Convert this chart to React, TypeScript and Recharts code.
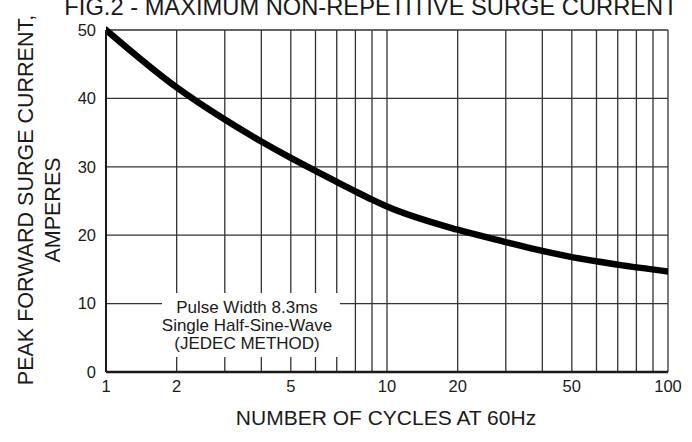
import { LineChart, Line, XAxis, YAxis, CartesianGrid } from 'recharts'

const cycles = [1, 2, 3, 4, 5, 6, 7, 8, 9, 10, 20, 30, 40, 50, 70, 100]
const surgeAmps = [50, 41.6, 36.9, 33.7, 31.3, 29.4, 27.8, 26.4, 25.2, 24.2, 20.8, 19.0, 17.7, 16.8, 15.7, 14.7]

const gridCycles = [1, 2, 3, 4, 5, 6, 7, 8, 9, 10, 20, 30, 40, 50, 60, 70, 80, 90, 100]
const labelCycles = [1, 2, 5, 10, 20, 50, 100]
const ampTicks = [0, 10, 20, 30, 40, 50]

const noteLines = ['Pulse Width 8.3ms', 'Single Half-Sine-Wave', '(JEDEC METHOD)']

const data = cycles.map((c, i) => ({ cycles: c, amps: surgeAmps[i] }))

const font = '"Liberation Sans", Arial, sans-serif'
const ink = '#1a1a1a'

// the printed log paper is slightly squeezed inside each decade
const SQUEEZE = 0.7
function warp(v: number) {
  const d = Math.floor(Math.log10(v) + 1e-9)
  const m = v / Math.pow(10, d)
  return d + Math.log10((m + SQUEEZE) / (1 + SQUEEZE)) / Math.log10((10 + SQUEEZE) / (1 + SQUEEZE))
}

function logPaperScale() {
  let dom: number[] = [1, 100]
  let rng: number[] = [0, 1]
  const scale: any = (v: number) => {
    const t0 = warp(dom[0])
    const t1 = warp(dom[1])
    return rng[0] + ((warp(v) - t0) / (t1 - t0)) * (rng[1] - rng[0])
  }
  scale.domain = (d?: number[]) => {
    if (d === undefined) return dom.slice()
    dom = d.map(Number)
    return scale
  }
  scale.range = (r?: number[]) => {
    if (r === undefined) return rng.slice()
    rng = r.map(Number)
    return scale
  }
  scale.ticks = () => gridCycles
  scale.copy = () => logPaperScale().domain(dom).range(rng)
  return scale
}

export default function App() {
  return (
    <div style={{ position: 'absolute', left: 0, top: 0, width: 692, height: 442, background: '#fff', fontFamily: font }}>
      <LineChart width={692} height={442} data={data} margin={{ top: 30, right: 24, bottom: 40, left: 0 }}>
        <CartesianGrid stroke="#333" strokeWidth={1.3} />
        <XAxis
          dataKey="cycles"
          type="number"
          scale={logPaperScale()}
          domain={[1, 100]}
          ticks={gridCycles}
          interval={0}
          allowDataOverflow
          tickFormatter={(v: number) => (labelCycles.includes(v) ? String(v) : '')}
          tickSize={0}
          tickMargin={8}
          height={30}
          axisLine={{ stroke: ink, strokeWidth: 2.5 }}
          tick={{ fill: ink, fontSize: 16.5, fontFamily: font }}
        />
        <YAxis
          type="number"
          domain={[0, 50]}
          ticks={ampTicks}
          interval={0}
          width={106}
          tickSize={0}
          tickMargin={10}
          axisLine={{ stroke: ink, strokeWidth: 2 }}
          tick={{ fill: ink, fontSize: 16.5, fontFamily: font }}
        />
        <Line
          type="monotone"
          dataKey="amps"
          stroke="#000"
          strokeWidth={6.5}
          strokeLinecap="round"
          dot={false}
          isAnimationActive={false}
        />
      </LineChart>
      <svg width={692} height={442} style={{ position: 'absolute', left: 0, top: 0, pointerEvents: 'none' }}>
        <text x={371} y={15} textAnchor="middle" fontSize={23.7} fill={ink} fontFamily={font}>
          FIG.2 - MAXIMUM NON-REPETITIVE SURGE CURRENT
        </text>
        <text transform="translate(33,200) rotate(-90)" textAnchor="middle" fontSize={21.5} fill={ink} fontFamily={font}>
          PEAK FORWARD SURGE CURRENT,
        </text>
        <text transform="translate(60,210) rotate(-90)" textAnchor="middle" fontSize={21.5} fill={ink} fontFamily={font}>
          AMPERES
        </text>
        <text x={386} y={425} textAnchor="middle" fontSize={21} fill={ink} fontFamily={font}>
          NUMBER OF CYCLES AT 60Hz
        </text>
        <rect x={162} y={293} width={178} height={64} fill="#fff" />
        {noteLines.map((t, i) => (
          <text key={t} x={247} y={313 + i * 18} textAnchor="middle" fontSize={17} fill={ink} fontFamily={font}>
            {t}
          </text>
        ))}
      </svg>
    </div>
  )
}
